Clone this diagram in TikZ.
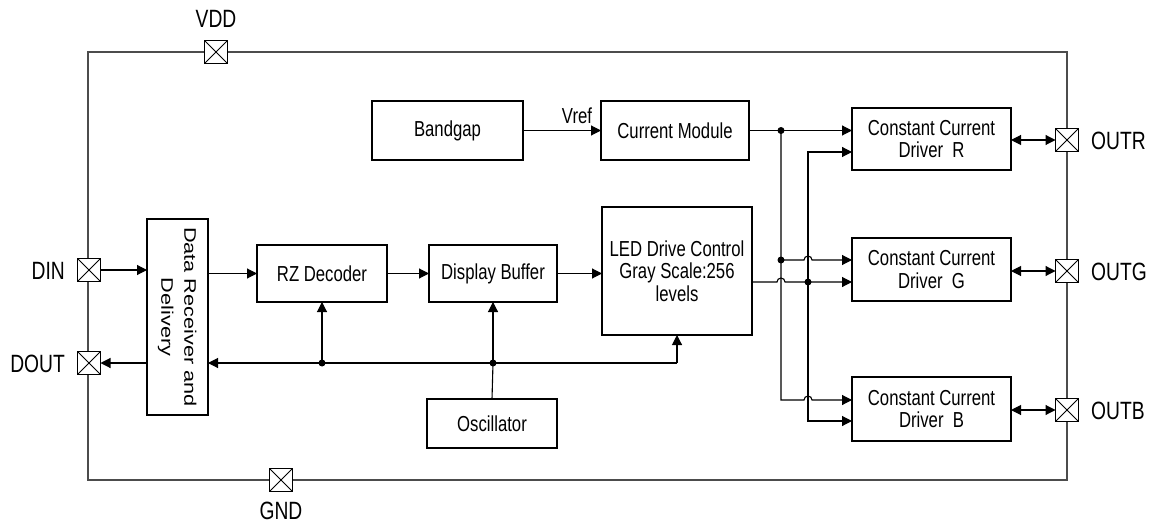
\documentclass[tikz,border=0pt]{standalone}
\usepackage{fontspec}
\setmainfont[FakeStretch=0.77]{Liberation Sans}
\newfontfamily\plainsans{Liberation Sans}
\usetikzlibrary{arrows.meta}
\begin{document}
\begin{tikzpicture}[x=1pt,y=-1pt,
  blk/.style={draw=black,line width=1.1pt,inner sep=0pt,outer sep=0pt,align=center,font=\fontsize{21.7}{22.5}\selectfont},
  pad/.style={draw=black,line width=0.9pt,fill=white,inner sep=0pt,outer sep=0pt,minimum size=23pt,
    path picture={\draw[line width=0.8pt] (path picture bounding box.north west) -- (path picture bounding box.south east)
      (path picture bounding box.south west) -- (path picture bounding box.north east);}},
  olab/.style={font=\fontsize{25}{27}\selectfont,inner sep=0pt},
  ilab/.style={font=\fontsize{21.7}{22.5}\selectfont,inner sep=0pt},
  frame/.style={draw=black!70,line width=1.3pt},
  ln/.style={draw=black,line width=1.1pt},
  arr/.style={ln,-{Triangle[length=10pt,width=10pt]}},
  darr/.style={ln,{Triangle[length=10pt,width=10pt]}-{Triangle[length=10pt,width=10pt]}},
  dot/.style={circle,fill=black,inner sep=0pt,minimum size=7pt}]
\useasboundingbox (0,0) rectangle (1158,529);
% outer frame
\draw[frame] (88,52) rectangle (1067,480);
% pads
\node[pad] (vdd) at (216,52) {};
\node[pad] (gnd) at (281,480) {};
\node[pad] (din) at (89,270) {};
\node[pad] (dout) at (89,363) {};
\node[pad] (oR) at (1067,140) {};
\node[pad] (oG) at (1067,271) {};
\node[pad] (oB) at (1067,410) {};
\node[olab] at (216,19) {VDD};
\node[olab] at (281,511) {GND};
\node[olab,anchor=east] at (65,271) {DIN};
\node[olab,anchor=east] at (65,364) {DOUT};
\node[olab,anchor=west] at (1091,141) {OUTR};
\node[olab,anchor=west] at (1091,272) {OUTG};
\node[olab,anchor=west] at (1091,411) {OUTB};
% blocks
\node[blk,minimum width=61pt,minimum height=196pt] (recv) at (177.5,317)
  {\scalebox{0.77}[1]{\rotatebox{-90}{\plainsans\fontsize{21.7}{30}\selectfont\begin{tabular}{@{}c@{}}Data Receiver and\\Delivery\end{tabular}}}};
\node[blk,minimum width=130pt,minimum height=57pt] (rz) at (322,273.5) {RZ Decoder};
\node[blk,minimum width=128pt,minimum height=57pt] (db) at (493,273.5) {Display Buffer};
\node[blk,minimum width=150pt,minimum height=128pt] (led) at (677,271) {LED Drive Control\\Gray Scale:256\\levels};
\node[blk,minimum width=151pt,minimum height=59pt] (bg) at (447.5,130.5) {Bandgap};
\node[blk,minimum width=148pt,minimum height=59pt] (cm) at (675,130.5) {Current Module};
\node[blk,minimum width=130pt,minimum height=49pt] (osc) at (492,423.5) {Oscillator};
\node[blk,minimum width=159pt,minimum height=62pt] (dR) at (931.5,139) {Constant Current\\Driver\ \ R};
\node[blk,minimum width=159pt,minimum height=63pt] (dG) at (931.5,269.5) {Constant Current\\Driver\ \ G};
\node[blk,minimum width=159pt,minimum height=64pt] (dB) at (931.5,409) {Constant Current\\Driver\ \ B};
\node[ilab] (vref) at (577,116) {Vref};
% helper coordinates
\coordinate (xa) at (781,0);
\coordinate (xb) at (808,0);
\coordinate (yRb) at (0,152);
\coordinate (yGa) at (0,260);
\coordinate (yGb) at (0,282);
\coordinate (yBa) at (0,400);
\coordinate (yBb) at (0,421);
\coordinate (yBus) at (0,363);
% left side
\draw[arr] (din.east) -- (recv.west |- din.east);
\draw[arr] (recv.west |- dout.east) -- (dout.east);
\draw[arr] (recv.east |- rz.west) -- (rz.west);
\draw[arr] (rz.east) -- (db.west);
\draw[arr] (db.east) -- (led.west |- db.east);
\draw[arr] (bg.east) -- (cm.west);
% bus
\node[dot] (j1) at (rz.south |- yBus) {};
\node[dot] (j2) at (db.south |- yBus) {};
\draw[arr] (led.south |- yBus) -- (recv.east |- yBus);
\draw[arr] (led.south |- yBus) -- (led.south);
\draw[arr] (j1.center) -- (rz.south);
\draw[arr] (j2.center) -- (db.south);
\draw[ln] (osc.north) -- (j2.center);
% right side
\node[dot] (ja) at (xa |- cm.east) {};
\node[dot] (jg) at (xa |- yGa) {};
\node[dot] (jb) at (xb |- yGb) {};
\draw[arr] (cm.east) -- (dR.west |- cm.east);
\draw[arr] (ja.center) -- (xa |- yBa) -- ++(23,0) arc[start angle=180,end angle=360,radius=4] -- (dB.west |- yBa);
\draw[arr] (jg.center) -- ++(23,0) arc[start angle=180,end angle=360,radius=4] -- (dG.west |- yGa);
\draw[arr] (led.east |- yGb) -- ++(25,0) arc[start angle=180,end angle=360,radius=4] -- (dG.west |- yGb);
\draw[darr] (dR.west |- yRb) -- (xb |- yRb) -- (xb |- yBb) -- (dB.west |- yBb);
% outputs
\draw[darr] (dR.east |- oR) -- (oR.west);
\draw[darr] (dG.east |- oG) -- (oG.west);
\draw[darr] (dB.east |- oB) -- (oB.west);
\end{tikzpicture}
\end{document}
